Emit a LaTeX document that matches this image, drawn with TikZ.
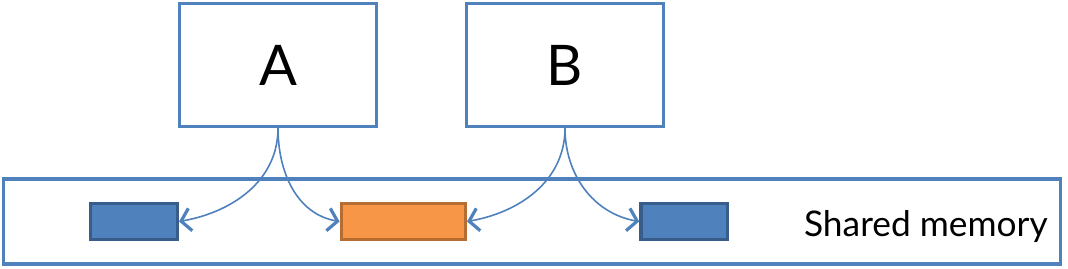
\documentclass[tikz,border=0pt]{standalone}
\usepackage{fontspec}
\setmainfont{Lato}
\usepackage{tikz}
\usetikzlibrary{arrows.meta}
\definecolor{officeblue}{RGB}{79,129,189}
\definecolor{darkblue}{RGB}{56,93,138}
\definecolor{officeorange}{RGB}{247,150,70}
\definecolor{darkorange}{RGB}{182,109,49}
\tikzset{
  flowarrow/.style={-{Straight Barb[length=7pt, width=17pt, line width=2.4pt]}, draw=officeblue, line width=1.2pt},
  procbox/.style={draw=officeblue, line width=2.6pt, fill=white, minimum width=148pt, minimum height=92pt, font=\fontsize{42}{48}\selectfont},
  membox/.style={draw=officeblue, line width=2.6pt, minimum width=793pt, minimum height=64pt},
  memblock/.style={draw=darkblue, fill=officeblue, line width=2.6pt, minimum width=65pt, minimum height=27pt, inner sep=0pt},
  memblock2/.style={draw=darkorange, fill=officeorange, line width=2.6pt, minimum width=93pt, minimum height=27pt, inner sep=0pt},
  memlabel/.style={font=\fontsize{26.5}{30}\selectfont, inner sep=0pt}
}

\begin{document}
\begin{tikzpicture}[x=0.75pt, y=-0.75pt]
  \useasboundingbox (0,0) rectangle (1068,268);
  \node[procbox] (procA) at (278,65) {A};
  \node[procbox] (procB) at (565,65) {B};
  \node[membox] (shmem) at (532,221.5) {};
  \node[memblock] (blk1) at (134,221.5) {};
  \node[memblock2] (blk2) at (403.3,221.5) {};
  \node[memblock] (blk3) at (684.3,221.5) {};
  \node[memlabel, anchor=base east] (memtext) at (1048,236.5) {Shared memory};
  \draw[flowarrow] (procA.south) to[out=-90, in=10] (blk1.east);
  \draw[flowarrow] (procA.south) to[out=-90, in=170] (blk2.west);
  \draw[flowarrow] (procB.south) to[out=-90, in=10] (blk2.east);
  \draw[flowarrow] (procB.south) to[out=-90, in=170] (blk3.west);
\end{tikzpicture}
\end{document}
